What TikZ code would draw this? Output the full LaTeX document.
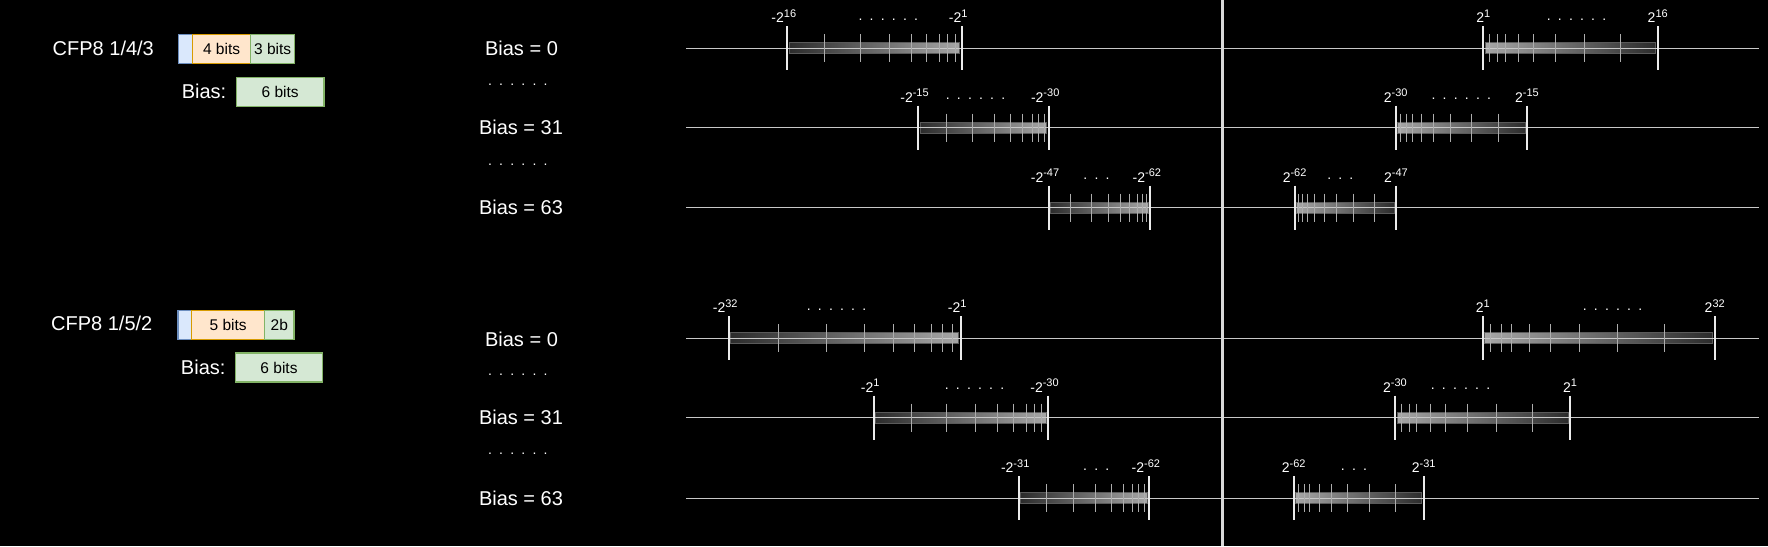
\documentclass[tikz,border=0pt]{standalone}
\usepackage{fontspec}
\setmainfont{Liberation Sans}
\usetikzlibrary{positioning}

\definecolor{signfill}{HTML}{DAE8FC}
\definecolor{signline}{HTML}{6C8EBF}
\definecolor{expfill}{HTML}{FFE6CC}
\definecolor{expline}{HTML}{D79B00}
\definecolor{manfill}{HTML}{D5E8D4}
\definecolor{manline}{HTML}{82B366}
\definecolor{axisgray}{HTML}{C8C8C8}
\definecolor{neargray}{HTML}{A6A6A6}
\definecolor{fargray}{HTML}{2C2C2C}
\definecolor{barline}{HTML}{5A5A5A}

\newcommand{\pw}[2]{#1\raisebox{5.4pt}{\fontsize{11}{12}\selectfont #2}}
\newcommand{\sixdots}{.\hspace{7.2pt}.\hspace{7.2pt}.\hspace{7.2pt}.\hspace{7.2pt}.\hspace{7.2pt}.}
\newcommand{\threedots}{.\hspace{7.2pt}.\hspace{7.2pt}.}

% #1 row, #2 end near zero, #3 far end, #4 #5 their labels, #6 dots, #7 dots x
\newcommand{\halfrange}[7]{%
  \ifdim #2pt<#3pt
    \shadedraw[left color=neargray, right color=fargray, draw=barline, line width=0.8pt] (#2+2,#1-5.5) rectangle (#3-2,#1+5.5);
    \def\lshift{0}
  \else
    \shadedraw[left color=fargray, right color=neargray, draw=barline, line width=0.8pt] (#3+2,#1-5.5) rectangle (#2-2,#1+5.5);
    \def\lshift{-3.5}
  \fi
  \draw[axisline] (#2,#1) -- (#3,#1);
  \foreach \f in {0.035,0.08,0.125,0.2,0.29,0.415,0.58,0.785}
    \draw[tickline] ({#2+\f*(#3-#2)},#1-14) -- ++(0,28);
  \draw[endbar] (#2,#1-22) -- (#2,#1+22);
  \draw[endbar] (#3,#1-22) -- (#3,#1+22);
  \node[powlabel] at (#2+\lshift,#1-25.5) {#4};
  \node[powlabel] at (#3+\lshift,#1-25.5) {#5};
  \node[dotlabel] at (#7,#1-29) {#6};
}

\tikzset{
  fmtlabel/.style={font=\fontsize{20}{24}\selectfont, text=white, inner sep=0pt},
  bitbox/.style={draw, line width=1.3pt, minimum height=29pt, inner sep=0pt, outer sep=0pt,
    font=\fontsize{15.5}{18}\selectfont, text=black},
  signbox/.style={bitbox, fill=signfill, draw=signline, minimum width=13.8pt},
  expbox/.style={bitbox, fill=expfill, draw=expline},
  manbox/.style={bitbox, fill=manfill, draw=manline},
  axisline/.style={draw=axisgray, line width=1.3pt},
  centerline/.style={draw=white!85!black, line width=2.5pt},
  endbar/.style={draw=white!92!black, line width=2pt},
  tickline/.style={draw=white!68!black, line width=1pt},
  powlabel/.style={font=\fontsize{14}{17}\selectfont, text=white, anchor=base, inner sep=0pt},
  dotlabel/.style={font=\fontsize{14}{17}\selectfont, text=white, inner sep=0pt},
}

\begin{document}
\begin{tikzpicture}[x=1pt, y=-1pt]

    \path[use as bounding box, fill=black] (0,0) rectangle (1768,546);

    % CFP8 1/4/3
    \node[fmtlabel] (fmt1) at (103.3,48.3) {CFP8 1/4/3};
    \node[signbox] (sign1) at (185.6,48.8) {};
    \node[expbox, minimum width=58.2pt, right=0pt of sign1] (exp1) {4 bits};
    \node[manbox, minimum width=44pt, right=0pt of exp1] (man1) {3 bits};
    \node[fmtlabel] (biaslbl1) at (204,91.7) {Bias:};
    \node[manbox, minimum width=87.3pt, minimum height=28.6pt] (biasbits1) at (280.2,92) {6 bits};

    % CFP8 1/5/2
    \node[fmtlabel] (fmt2) at (101.8,323.3) {CFP8 1/5/2};
    \node[signbox] (sign2) at (184.9,324.8) {};
    \node[expbox, minimum width=72.7pt, right=0pt of sign2] (exp2) {5 bits};
    \node[manbox, minimum width=29.5pt, right=0pt of exp2] (man2) {2b};
    \node[fmtlabel] (biaslbl2) at (203.2,367.3) {Bias:};
    \node[manbox, minimum width=87.2pt, minimum height=29pt] (biasbits2) at (279,367.5) {6 bits};

    % bias column
    \node[fmtlabel] (bias10) at (521.5,48.3) {Bias = 0};
    \node[dotlabel] (gap11) at (517.8,84.3) {\sixdots};
    \node[fmtlabel] (bias131) at (521,127.7) {Bias = 31};
    \node[dotlabel] (gap12) at (517.8,164.6) {\sixdots};
    \node[fmtlabel] (bias163) at (521,207.7) {Bias = 63};
    \node[fmtlabel] (bias20) at (521.5,339) {Bias = 0};
    \node[dotlabel] (gap21) at (517.8,374.3) {\sixdots};
    \node[fmtlabel] (bias231) at (521,417.7) {Bias = 31};
    \node[dotlabel] (gap22) at (517.8,454) {\sixdots};
    \node[fmtlabel] (bias263) at (521,498.3) {Bias = 63};

    % axes
    \foreach \y in {48.3,127.7,207.7,338.3,417.5,498.3}
      \draw[axisline] (686,\y) -- (1759,\y);
    \draw[centerline] (1222.5,0) -- (1222.5,546);

    % ranges, 1/4/3
    \halfrange{48.3}{961.7}{787.3}{\pw{-2}{1}}{\pw{-2}{16}}{\sixdots}{888.3}
    \halfrange{48.3}{1483.3}{1657.7}{\pw{2}{1}}{\pw{2}{16}}{\sixdots}{1576.5}
    \halfrange{127.7}{1048.7}{918}{\pw{-2}{-30}}{\pw{-2}{-15}}{\sixdots}{975.5}
    \halfrange{127.7}{1395.7}{1527}{\pw{2}{-30}}{\pw{2}{-15}}{\sixdots}{1461.3}
    \halfrange{207.7}{1150.3}{1048.5}{\pw{-2}{-62}}{\pw{-2}{-47}}{\threedots}{1096.5}
    \halfrange{207.7}{1294.6}{1396}{\pw{2}{-62}}{\pw{2}{-47}}{\threedots}{1340.3}

    % ranges, 1/5/2
    \halfrange{338.3}{960.7}{728.7}{\pw{-2}{1}}{\pw{-2}{32}}{\sixdots}{836.5}
    \halfrange{338.3}{1482.7}{1714.7}{\pw{2}{1}}{\pw{2}{32}}{\sixdots}{1612.5}
    \halfrange{417.5}{1048}{873.7}{\pw{-2}{-30}}{\pw{-2}{1}}{\sixdots}{974.5}
    \halfrange{417.5}{1395}{1570}{\pw{2}{-30}}{\pw{2}{1}}{\sixdots}{1460.5}
    \halfrange{498.3}{1149.3}{1018.7}{\pw{-2}{-62}}{\pw{-2}{-31}}{\threedots}{1096.2}
    \halfrange{498.3}{1293.7}{1423.7}{\pw{2}{-62}}{\pw{2}{-31}}{\threedots}{1354}

\end{tikzpicture}
\end{document}
